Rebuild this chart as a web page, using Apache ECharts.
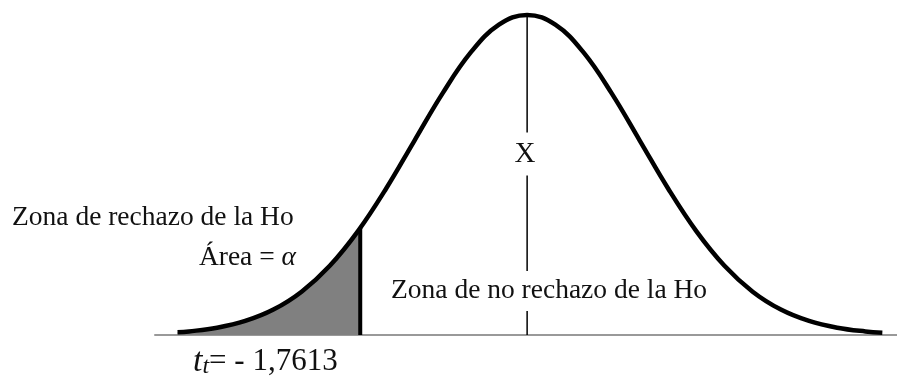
<!DOCTYPE html>
<html lang="es">
<head>
  <meta charset="UTF-8">
  <title>Zona de rechazo</title>
  <script src="https://cdn.jsdelivr.net/npm/echarts@6/dist/echarts.min.js"></script>
  <style>
    html, body { margin: 0; padding: 0; background: #fff; }
    #chart { width: 897px; height: 381px; }
  </style>
</head>
<body>
  <div id="chart"></div>
  <script>
    // curva normal (x en unidades de desviacion, y = altura)
    var curveX = [-3.1, -3.0, -2.75, -2.5, -2.25, -2.0, -1.75, -1.5, -1.25, -1.0, -0.75, -0.5, -0.25, 0,
                  0.25, 0.5, 0.75, 1.0, 1.25, 1.5, 1.75, 2.0, 2.25, 2.5, 2.75, 3.0, 3.15]
    var curveY = [0.0033, 0.0044, 0.0091, 0.0175, 0.0317, 0.0540, 0.0863, 0.1295, 0.1826, 0.2420, 0.3011, 0.3521, 0.3867, 0.3989,
                  0.3867, 0.3521, 0.3011, 0.2420, 0.1826, 0.1295, 0.0863, 0.0540, 0.0317, 0.0175, 0.0091, 0.0044, 0.0028]
    // cola izquierda sombreada hasta el valor critico
    var shadeX = [-3.1, -3.0, -2.75, -2.5, -2.25, -2.0, -1.75, -1.48]
    var shadeY = [0.0033, 0.0044, 0.0091, 0.0175, 0.0317, 0.0540, 0.0863, 0.1334]
    var critX = -1.48
    var critY = 0.1334
    var peakY = 0.3989

    var pairs = function (xs, ys) {
      return xs.map(function (x, i) { return [x, ys[i]] })
    }

    var serif = "'Liberation Serif', 'Times New Roman', serif"
    var chart = echarts.init(document.getElementById('chart'))

    var option = {
      animation: false,
      backgroundColor: '#fff',
      grid: { left: 155, right: 0, top: 14, bottom: 46 },
      xAxis: {
        type: 'value', min: -3.3, max: 3.28,
        axisLine: { show: true, onZero: false, lineStyle: { color: '#999', width: 2 } },
        axisTick: { show: false }, axisLabel: { show: false }, splitLine: { show: false }
      },
      yAxis: {
        type: 'value', min: 0, max: 0.4, show: false
      },
      series: [
        {
          type: 'line', data: pairs(shadeX, shadeY), smooth: 0.4, symbol: 'none',
          lineStyle: { width: 0 }, areaStyle: { color: '#808080', opacity: 1 }, z: 1
        },
        {
          type: 'line', data: pairs(curveX, curveY), smooth: 0.4, symbol: 'none',
          lineStyle: { color: '#000', width: 4.5 }, z: 3
        },
        {
          type: 'line', data: [[0, 0], [0, peakY]], symbol: 'none',
          lineStyle: { color: '#000', width: 1.5 }, z: 2
        },
        {
          type: 'line', data: [[critX, 0], [critX, critY]], symbol: 'none',
          lineStyle: { color: '#000', width: 4 }, z: 4
        }
      ],
      graphic: [
        {
          type: 'text', x: 12, y: 218, z: 10,
          style: { text: 'Zona de rechazo de la Ho', font: '27.5px ' + serif, fill: '#111', verticalAlign: 'middle' }
        },
        {
          type: 'text', x: 296, y: 258, z: 10,
          style: {
            text: 'Área = {a|α}', font: '27.5px ' + serif, fill: '#111', align: 'right', verticalAlign: 'middle',
            rich: { a: { fontFamily: serif, fontStyle: 'italic', fontSize: 27.5, fill: '#111' } }
          }
        },
        {
          type: 'text', x: 525, y: 154, z: 10,
          style: {
            text: 'X', font: '29px ' + serif, fill: '#111', align: 'center', verticalAlign: 'middle',
            backgroundColor: '#fff', padding: [7, 3]
          }
        },
        {
          type: 'text', x: 389, y: 291, z: 10,
          style: {
            text: 'Zona de no rechazo de la Ho', font: '27.5px ' + serif, fill: '#111', verticalAlign: 'middle',
            backgroundColor: '#fff', padding: [6, 2]
          }
        },
        {
          type: 'text', x: 193, y: 362, z: 10,
          style: {
            text: '{t|t}{s|t}{r|= - 1,7613}', fill: '#111', verticalAlign: 'middle',
            rich: {
              t: { fontFamily: serif, fontStyle: 'italic', fontSize: 34, fill: '#111' },
              s: { fontFamily: serif, fontStyle: 'italic', fontSize: 24, fill: '#111', verticalAlign: 'bottom' },
              r: { fontFamily: serif, fontSize: 31, fill: '#111' }
            }
          }
        }
      ]
    }
    chart.setOption(option)
  </script>
</body>
</html>
